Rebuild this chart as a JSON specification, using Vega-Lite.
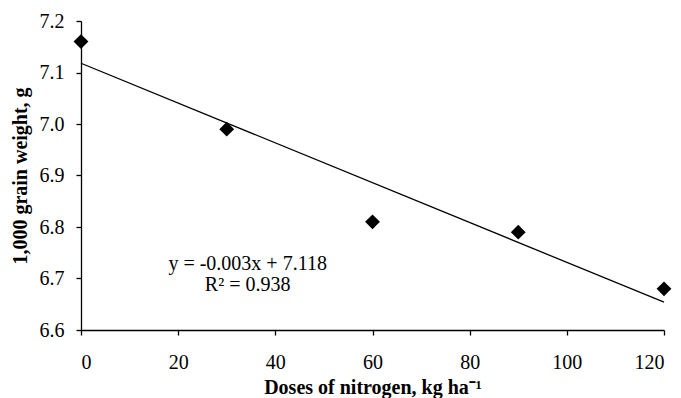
{
  "$schema": "https://vega.github.io/schema/vega-lite/v6.json",
  "width": 583,
  "height": 309,
  "autosize": "none",
  "padding": {"left": 81, "top": 21, "right": 17, "bottom": 68},
  "background": "white",
  "config": {
    "view": {"stroke": null},
    "font": "Liberation Serif",
    "axis": {
      "grid": false,
      "domainColor": "black",
      "domainWidth": 1.3,
      "tickColor": "black",
      "tickWidth": 1.3,
      "tickSize": 5,
      "labelFont": "Liberation Serif",
      "labelFontSize": 20,
      "labelColor": "black",
      "titleFont": "Liberation Serif",
      "titleFontSize": 20,
      "titleFontWeight": "bold",
      "titleColor": "black"
    }
  },
  "datasets": {
    "points": [
      {"dose": 0, "weight": 7.16},
      {"dose": 30, "weight": 6.99},
      {"dose": 60, "weight": 6.81},
      {"dose": 90, "weight": 6.79},
      {"dose": 120, "weight": 6.68}
    ],
    "trend": [
      {"dose": 0, "weight": 7.118},
      {"dose": 120, "weight": 6.654}
    ]
  },
  "layer": [
    {
      "data": {"name": "trend"},
      "mark": {"type": "line", "color": "black", "strokeWidth": 1.3},
      "encoding": {
        "x": {"field": "dose", "type": "quantitative",
          "scale": {"domain": [0, 120], "nice": false},
          "axis": {"values": [0, 20, 40, 60, 80, 100, 120], "title": "Doses of nitrogen, kg  ha⁻¹", "labelPadding": 17, "titlePadding": 5}},
        "y": {"field": "weight", "type": "quantitative",
          "scale": {"domain": [6.6, 7.2], "nice": false, "zero": false},
          "axis": {"values": [6.6, 6.7, 6.8, 6.9, 7.0, 7.1, 7.2], "format": ".1f", "title": "1,000 grain weight, g", "labelPadding": 12, "titlePadding": 9}}
      }
    },
    {
      "data": {"name": "points"},
      "mark": {"type": "point", "shape": "diamond", "filled": true, "color": "black", "opacity": 1, "size": 220},
      "encoding": {
        "x": {"field": "dose", "type": "quantitative"},
        "y": {"field": "weight", "type": "quantitative"}
      }
    },
    {
      "data": {"values": [{"label": "y = -0.003x + 7.118"}]},
      "mark": {"type": "text", "font": "Liberation Serif", "fontSize": 20, "color": "black", "align": "center", "baseline": "alphabetic"},
      "encoding": {
        "x": {"datum": 34.3},
        "y": {"datum": 6.7165},
        "text": {"field": "label"}
      }
    },
    {
      "data": {"values": [{"label": "R² = 0.938"}]},
      "mark": {"type": "text", "font": "Liberation Serif", "fontSize": 20, "color": "black", "align": "center", "baseline": "alphabetic"},
      "encoding": {
        "x": {"datum": 34.3},
        "y": {"datum": 6.6757},
        "text": {"field": "label"}
      }
    }
  ]
}
